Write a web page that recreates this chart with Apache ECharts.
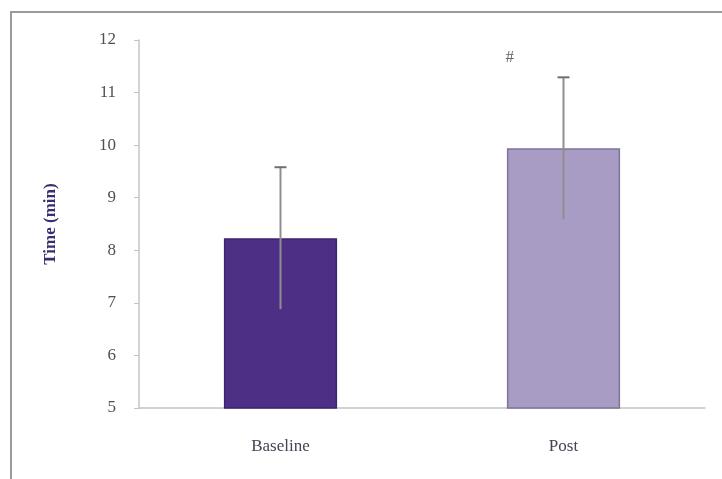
<!DOCTYPE html>
<html>
<head>
<meta charset="utf-8">
<script src="https://cdn.jsdelivr.net/npm/echarts@6/dist/echarts.min.js"></script>
<style>
  html, body { margin: 0; padding: 0; background: #fff; }
  #chart { width: 722px; height: 479px; }
</style>
</head>
<body>
<div id="chart"></div>
<script>
// data
const categories = ['Baseline', 'Post'];
const meanTime = [8.23, 9.94];
const sdTime = [1.35, 1.35];
const barColors = ['#4e2f86', '#a99cc4'];
const barBorders = ['#3d2470', '#7f7398'];
const markText = ['', '#'];

function initChart() {
    const chart = echarts.init(document.getElementById('chart'));

    const errData = categories.map((c, i) => [i, meanTime[i] - sdTime[i], meanTime[i] + sdTime[i], markText[i]]);

    const option = {
        animation: false,
        backgroundColor: '#fff',
        graphic: [
            {
                type: 'polyline',
                shape: { points: [[11, 479], [11, 12], [722, 12]] },
                style: { stroke: '#9a9a9a', lineWidth: 2, fill: null }
            }
        ],
        grid: { left: 139, right: 17, top: 40, bottom: 71 },
        xAxis: {
            type: 'category',
            data: categories,
            axisLine: { lineStyle: { color: '#c4c4c4', width: 1.5 } },
            axisTick: { show: false },
            axisLabel: {
                margin: 30,
                color: '#444455',
                fontFamily: 'Liberation Serif',
                fontSize: 17
            }
        },
        yAxis: {
            type: 'value',
            min: 5,
            max: 12,
            interval: 1,
            name: 'Time (min)',
            nameLocation: 'middle',
            nameGap: 80,
            nameTextStyle: {
                color: '#3b2c6e',
                fontFamily: 'Liberation Serif',
                fontWeight: 'bold',
                fontSize: 17
            },
            axisLine: { show: true, lineStyle: { color: '#c4c4c4', width: 1.5 } },
            axisTick: { show: true, length: 5, lineStyle: { color: '#c4c4c4' } },
            splitLine: { show: false },
            axisLabel: {
                margin: 23,
                color: '#505050',
                fontFamily: 'Liberation Serif',
                fontSize: 17
            }
        },
        series: [
            {
                type: 'bar',
                barWidth: '40%',
                data: meanTime.map((v, i) => ({
                    value: v,
                    itemStyle: { color: barColors[i], borderColor: barBorders[i], borderWidth: 1.5 }
                }))
            },
            {
                type: 'custom',
                data: errData,
                z: 10,
                renderItem: function (params, api) {
                    const x = api.value(0);
                    const lo = api.coord([x, api.value(1)]);
                    const hi = api.coord([x, api.value(2)]);
                    const bandW = api.size([1, 0])[0];
                    const cap = 6;
                    const children = [
                        { type: 'line', shape: { x1: hi[0], y1: lo[1], x2: hi[0], y2: hi[1] },
                          style: { stroke: '#8f8f8f', lineWidth: 2 } },
                        { type: 'line', shape: { x1: hi[0] - cap, y1: hi[1], x2: hi[0] + cap, y2: hi[1] },
                          style: { stroke: '#6f6f6f', lineWidth: 2 } }
                    ];
                    const txt = api.value(3);
                    if (txt) {
                        children.push({
                            type: 'text',
                            x: hi[0] - bandW * 0.19,
                            y: hi[1] - 20,
                            style: {
                                text: txt, fill: '#666', fontSize: 17,
                                fontFamily: 'Liberation Serif',
                                align: 'center', verticalAlign: 'middle'
                            }
                        });
                    }
                    return { type: 'group', children: children };
                }
            }
        ]
    };

    chart.setOption(option);
}

document.addEventListener('DOMContentLoaded', initChart);
</script>
</body>
</html>
